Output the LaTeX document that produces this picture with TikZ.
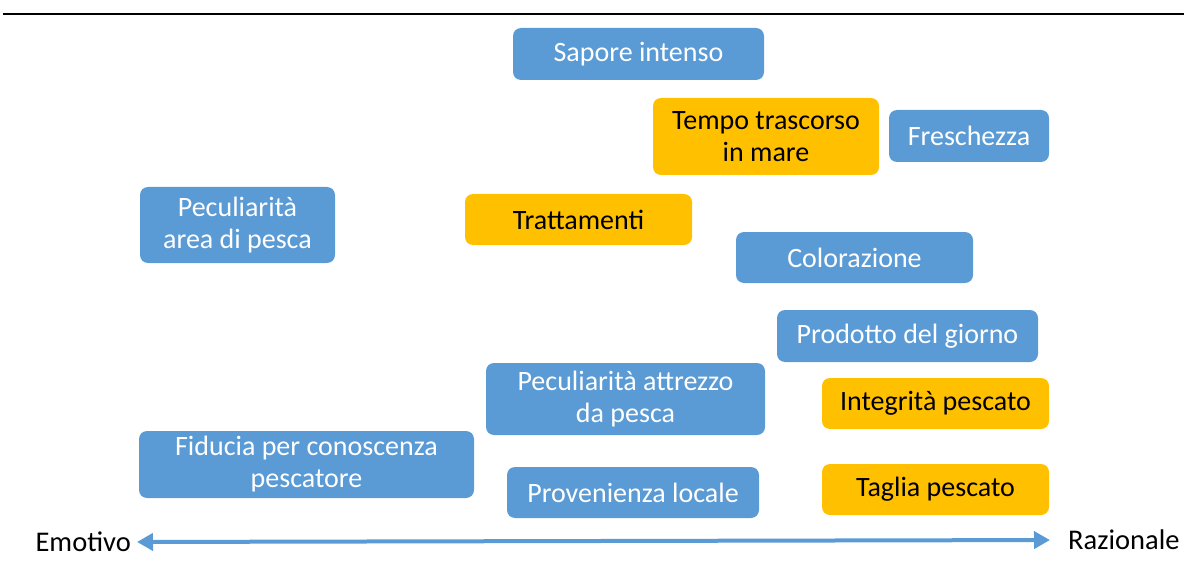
\documentclass[tikz,border=0pt]{standalone}
\usepackage{fontspec}
\setmainfont{Carlito}
\usetikzlibrary{arrows.meta}
\definecolor{cblue}{HTML}{5B9BD5}
\definecolor{corange}{HTML}{FFC000}
\begin{document}
\begin{tikzpicture}[x=1pt,y=1pt,
  box/.style={rounded corners=8pt, inner sep=0pt, align=center,
    font=\fontsize{28}{32}\selectfont},
  bluebox/.style={box, fill=cblue, text=white},
  orangebox/.style={box, fill=corange, text=black},
  axislabel/.style={inner sep=0pt, font=\fontsize{28.5}{32}\selectfont, text=black},
  axisarrow/.style={cblue, line width=4pt, {Triangle[length=16pt,width=17pt]}-{Triangle[length=16pt,width=17pt]}}
]
\useasboundingbox (0,0) rectangle (1184,-583);
\draw[line width=2.5pt] (3,-14) -- (1184,-14);

\node[bluebox, minimum width=251pt, minimum height=52pt] (sapore) at (638.5,-54) {Sapore intenso};
\node[orangebox, minimum width=226pt, minimum height=77pt] (tempo) at (766,-136.5) {Tempo trascorso\\in mare};
\node[bluebox, minimum width=160pt, minimum height=52pt] (fresch) at (969,-136) {Freschezza};
\node[bluebox, minimum width=195pt, minimum height=76pt] (areapesca) at (237.5,-225) {Peculiarità\\area di pesca};
\node[orangebox, minimum width=227pt, minimum height=51pt] (tratt) at (578.5,-219.5) {Trattamenti};
\node[bluebox, minimum width=237pt, minimum height=51pt] (color) at (854.5,-257.5) {Colorazione};
\node[bluebox, minimum width=261pt, minimum height=52pt] (prodotto) at (907.5,-336) {Prodotto del giorno};
\node[bluebox, minimum width=279pt, minimum height=72pt] (attrezzo) at (625.5,-399) {Peculiarità attrezzo\\da pesca};
\node[orangebox, minimum width=227pt, minimum height=51pt] (integrita) at (935.5,-403.5) {Integrità pescato};
\node[bluebox, minimum width=335pt, minimum height=67pt] (fiducia) at (306.5,-464.5) {Fiducia per conoscenza\\pescatore};
\node[bluebox, minimum width=252pt, minimum height=51pt] (proven) at (633,-492.5) {Provenienza locale};
\node[orangebox, minimum width=227pt, minimum height=51pt] (taglia) at (935.5,-489.5) {Taglia pescato};

\node[axislabel, anchor=east] (emo) at (131,-542) {Emotivo};
\node[axislabel, anchor=west] (raz) at (1068,-540) {Razionale};
\draw[axisarrow, shorten <=6pt, shorten >=18pt] (emo.east) -- (raz.west);
\end{tikzpicture}
\end{document}
